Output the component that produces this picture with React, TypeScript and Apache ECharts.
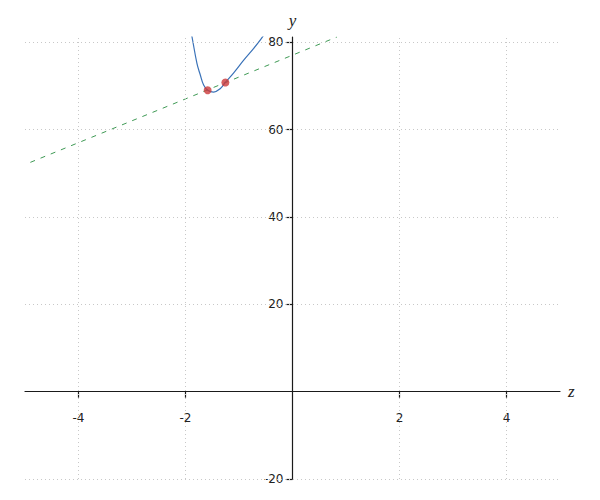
import React, { useEffect, useRef } from "react";
import * as echarts from "echarts";

const curveX = [-1.9, -1.878, -1.785, -1.723, -1.661, -1.586, -1.474, -1.348, -1.255, -1.099, -0.912, -0.725, -0.567, -0.54];
const curveY = [82.5, 81.2, 75.1, 72.5, 70.2, 69.0, 68.6, 69.4, 70.8, 73.0, 75.9, 78.6, 81.1, 81.6];
const pointsX = [-1.586, -1.255];
const pointsY = [69.0, 70.8];
const secantX = [-4.9, 0.83];
const secantY = [52.5, 81.2];
const xTicks = [-4, -2, 2, 4];
const yTicks = [-20, 20, 40, 60, 80];
const xRange = [-5, 5];
const yRange = [-20, 81.2];

const W = 600;
const H = 500;
const G = { left: 25, right: 40, top: 37, bottom: 21 };

export default function App() {
  const ref = useRef<HTMLDivElement>(null);
  useEffect(() => {
    if (!ref.current) return;
    const chart = echarts.init(ref.current, undefined, { renderer: "svg" });
    const gw = W - G.left - G.right;
    const gh = H - G.top - G.bottom;
    const zeroXpx = ((0 - xRange[0]) / (xRange[1] - xRange[0])) * gw;
    const zeroYpx = ((0 - yRange[0]) / (yRange[1] - yRange[0])) * gh;
    const labelStyle = { color: "#222", fontFamily: "DejaVu Sans", fontSize: 12 };
    const nameStyle = { color: "#222", fontFamily: "Liberation Serif", fontStyle: "italic" as const, fontSize: 17 };
    const gridLine = { color: "#c8c8c8", type: [1, 3], width: 1 };
    const axisLineStyle = { color: "#1a1a1a", width: 1.2 };
    chart.setOption({
      animation: false,
      grid: { ...G, containLabel: false, outerBoundsMode: "none" },
      xAxis: {
        type: "value",
        min: xRange[0],
        max: xRange[1],
        position: "bottom",
        offset: -zeroYpx,
        name: "z",
        nameLocation: "end",
        nameGap: 8,
        nameTextStyle: nameStyle,
        axisLine: { onZero: false, lineStyle: axisLineStyle },
        axisTick: { show: true, length: 6, customValues: xTicks, lineStyle: axisLineStyle },
        axisLabel: { ...labelStyle, margin: 20, customValues: xTicks },
        splitLine: { show: false },
      },
      yAxis: {
        type: "value",
        min: yRange[0],
        max: yRange[1],
        position: "left",
        offset: -zeroXpx,
        name: "y",
        nameLocation: "end",
        nameGap: 8,
        nameTextStyle: nameStyle,
        axisLine: { onZero: false, lineStyle: axisLineStyle },
        axisTick: { show: true, length: 6, customValues: yTicks, lineStyle: axisLineStyle },
        axisLabel: { ...labelStyle, margin: 9, customValues: yTicks },
        splitLine: { show: false },
      },
      series: [
        {
          type: "line",
          data: [],
          silent: true,
          z: 1,
          markLine: {
            silent: true,
            symbol: "none",
            label: { show: false },
            lineStyle: gridLine,
            data: [
              ...xTicks.map((v) => ({ xAxis: v })),
              ...yTicks.map((v) => ({ yAxis: v })),
            ],
          },
        },
        {
          type: "line",
          data: secantX.map((x, i) => [x, secantY[i]]),
          showSymbol: false,
          clip: true,
          lineStyle: { color: "#3f9a55", width: 1, type: [5, 6] },
          z: 3,
        },
        {
          type: "line",
          data: curveX.map((x, i) => [x, curveY[i]]),
          showSymbol: false,
          smooth: 0.4,
          clip: true,
          lineStyle: { color: "#3a72b8", width: 1.2 },
          z: 4,
        },
        {
          type: "scatter",
          data: pointsX.map((x, i) => [x, pointsY[i]]),
          symbolSize: 8,
          itemStyle: { color: "#cc3a3a" },
          z: 5,
        },
      ],
    });
    return () => chart.dispose();
  }, []);
  return <div ref={ref} style={{ width: W, height: H, margin: -8 }} />;
}
